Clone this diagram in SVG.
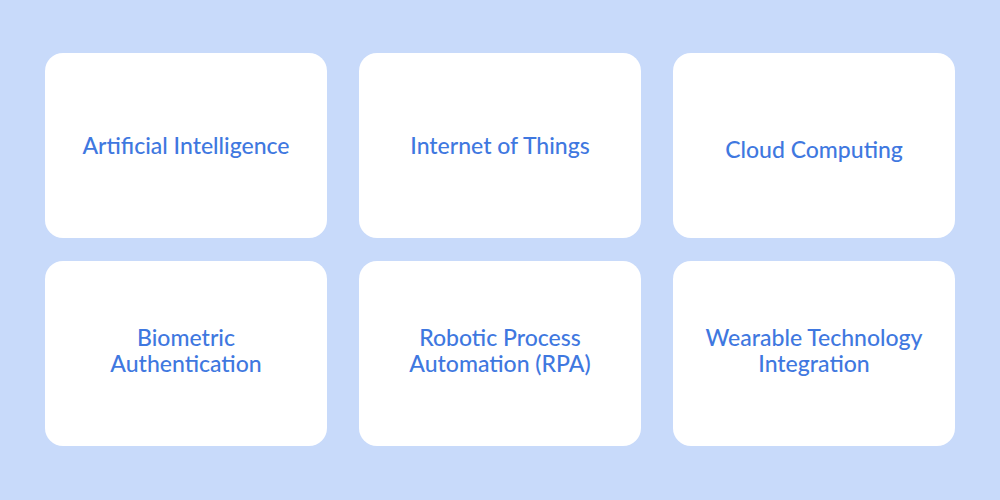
<svg xmlns="http://www.w3.org/2000/svg" width="1000" height="500" viewBox="0 0 1000 500">
<style>
.c{fill:#fff}
.t{font-family:"Lato","Liberation Sans",sans-serif;font-size:23px;fill:#3f78e0;text-anchor:middle;font-weight:500}
</style>
<rect width="1000" height="500" fill="#c8dafa"/>
<g id="n1"><rect class="c" x="45" y="53" width="282" height="185" rx="18"/><text class="t" x="186" y="154">Artificial Intelligence</text></g>
<g id="n2"><rect class="c" x="359" y="53" width="282" height="185" rx="18"/><text class="t" x="500" y="154">Internet of Things</text></g>
<g id="n3"><rect class="c" x="673" y="53" width="282" height="185" rx="18"/><text class="t" x="814" y="158">Cloud Computing</text></g>
<g id="n4"><rect class="c" x="45" y="261" width="282" height="185" rx="18"/><text class="t" x="186" y="346">Biometric</text><text class="t" x="186" y="372">Authentication</text></g>
<g id="n5"><rect class="c" x="359" y="261" width="282" height="185" rx="18"/><text class="t" x="500" y="346">Robotic Process</text><text class="t" x="500" y="372">Automation (RPA)</text></g>
<g id="n6"><rect class="c" x="673" y="261" width="282" height="185" rx="18"/><text class="t" x="814" y="346">Wearable Technology</text><text class="t" x="814" y="372">Integration</text></g>
<g id="connectors"/>
</svg>
